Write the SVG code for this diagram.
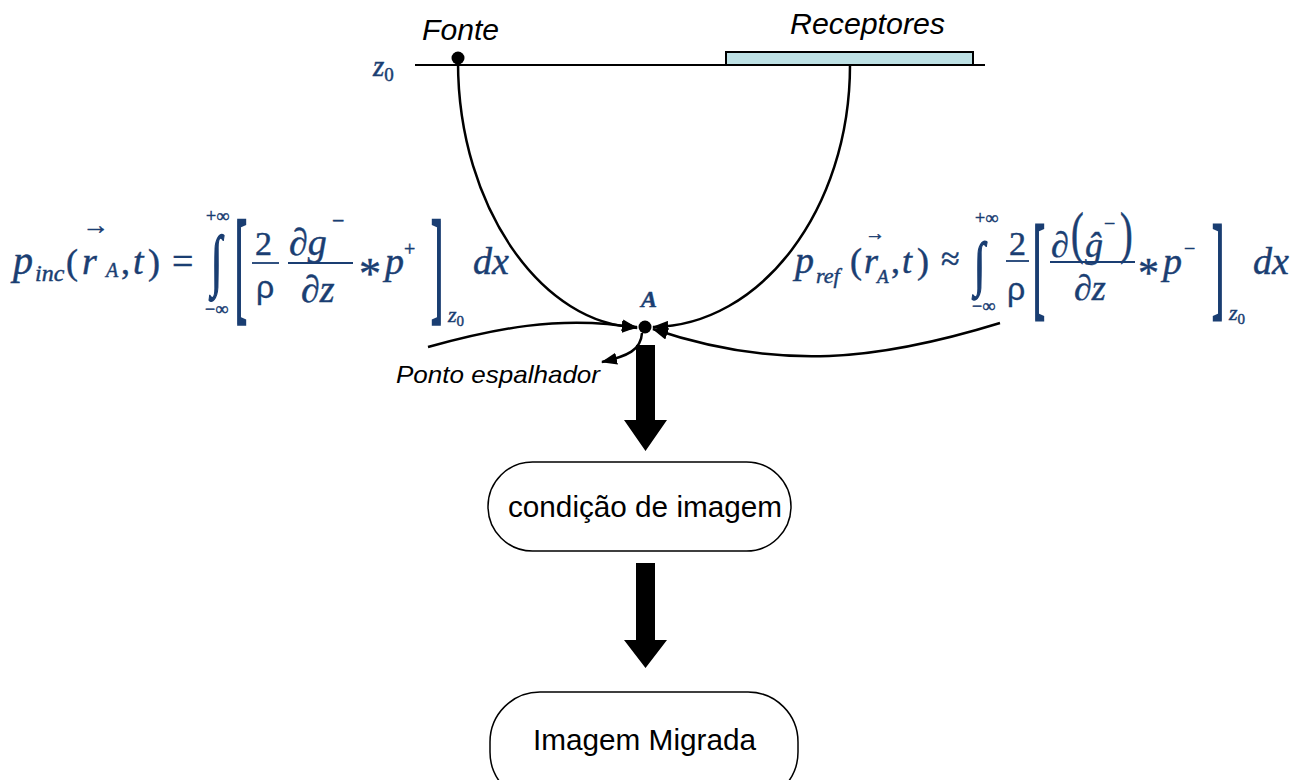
<svg xmlns="http://www.w3.org/2000/svg" width="1310" height="780" viewBox="0 0 1310 780">
<defs>
<style>
.lbl{font-family:"Liberation Sans",Arial,sans-serif;font-style:italic;fill:#000}
.box{fill:#fff;stroke:#000;stroke-width:1.5}
.bt{font-family:"Liberation Sans",Arial,sans-serif;font-size:29.5px;fill:#000;text-anchor:middle}
.m{font-family:"Liberation Serif","Times New Roman",serif;font-style:italic;fill:#1a3e72;stroke:#1a3e72;stroke-width:0.45}
.u{font-family:"Liberation Serif","Times New Roman",serif;fill:#1a3e72;stroke:#1a3e72;stroke-width:0.45}
.br{font-family:"Liberation Serif","Times New Roman",serif;fill:#1a3e72;stroke:#1a3e72;stroke-width:1}
.g{font-family:"Liberation Sans",Arial,sans-serif;fill:#1a3e72;stroke:#1a3e72;stroke-width:0.3}
.cv{fill:none;stroke:#000;stroke-width:2.5}
.fl{stroke:#1a3e72;stroke-width:1.8}
</style>
<marker id="ah" viewBox="0 0 16 12" refX="15" refY="6" markerWidth="16" markerHeight="12" orient="auto" markerUnits="userSpaceOnUse"><path d="M0,0 L16,6 L0,12 z" fill="#000"/></marker>
</defs>
<rect width="1310" height="780" fill="#fff"/>

<g id="surface">
<line x1="415" y1="65" x2="985" y2="65" stroke="#000" stroke-width="2"/>
<text class="m" x="373" y="76" font-size="29" stroke-width="0">z<tspan font-size="19" font-style="normal" dy="5">0</tspan></text>
</g>
<g id="receptores">
<rect x="726" y="52" width="247" height="13" fill="#bde0e4" stroke="#000" stroke-width="2"/>
<text class="lbl" x="790" y="34" font-size="30" textLength="155" lengthAdjust="spacingAndGlyphs">Receptores</text>
</g>
<g id="fonte">
<circle cx="458" cy="58" r="6.5" fill="#000"/>
<text class="lbl" x="422" y="40" font-size="30" textLength="77" lengthAdjust="spacingAndGlyphs">Fonte</text>
</g>
<g id="pontoA">
<circle cx="645" cy="327" r="6.5" fill="#000"/>
<text class="m" x="641" y="307" font-size="24" font-weight="bold">A</text>
<text class="lbl" x="396" y="383" font-size="24" textLength="204" lengthAdjust="spacingAndGlyphs">Ponto espalhador</text>
</g>

<g id="connectors">
<path class="cv" d="M458,62 C458,210 545,326 637,327" marker-end="url(#ah)"/>
<path class="cv" d="M850,65 C850,210 760,326 653,327" marker-end="url(#ah)"/>
<path class="cv" d="M428,347 C490,330 560,314 637,328" marker-end="url(#ah)" stroke-width="2"/>
<path class="cv" d="M1000,323 C880,360 780,372 653,329" marker-end="url(#ah)" stroke-width="2"/>
<path class="cv" d="M642,333 C641,350 628,356 602,362" marker-end="url(#ah)"/>
<path d="M636,345 H655 V420 H667 L645.5,451 L624,420 H636 Z" fill="#000"/>
<path d="M636,563 H655 V640 H667 L645.5,668 L624,640 H636 Z" fill="#000"/>
</g>

<g id="condicao">
<rect class="box" x="488" y="462" width="303" height="89" rx="44.5"/>
<text class="bt" x="645" y="517" textLength="274" lengthAdjust="spacingAndGlyphs">condição de imagem</text>
</g>
<g id="migrada">
<rect class="box" x="490" y="692" width="308" height="110" rx="50"/>
<text class="bt" x="644.5" y="750" textLength="223" lengthAdjust="spacingAndGlyphs">Imagem Migrada</text>
</g>

<g id="eq-inc">
<text class="m" x="13" y="274" font-size="40">p</text>
<text class="m" x="35" y="281" font-size="24">inc</text>
<text class="u" x="66" y="274" font-size="36">(</text>
<text class="m" x="82" y="274" font-size="38">r</text>
<text class="u" x="82" y="234" font-size="27">→</text>
<text class="m" x="106" y="277" font-size="20">A</text>
<text class="u" x="121" y="274" font-size="36">,</text>
<text class="m" x="133" y="274" font-size="38">t</text>
<text class="u" x="148" y="274" font-size="36">)</text>
<text class="u" x="172" y="274" font-size="38">=</text>
<text class="br" transform="translate(211,283) scale(1,1.7)" font-size="40">∫</text>
<text class="u" x="206" y="222" font-size="18">+∞</text>
<text class="u" x="205" y="315" font-size="18">−∞</text>
<text class="br" transform="translate(235,307) scale(1,3.5)" font-size="36">[</text>
<text class="u" x="255" y="255" font-size="34">2</text>
<line class="fl" x1="252" y1="263" x2="279" y2="263"/>
<text class="g" x="256" y="298" font-size="32">ρ</text>
<text class="m" x="289" y="255" font-size="38">∂g</text>
<text class="u" x="332" y="228" font-size="22">−</text>
<line class="fl" x1="288" y1="263" x2="353" y2="263"/>
<text class="m" x="301" y="302" font-size="38">∂z</text>
<text class="u" x="359" y="288" font-size="44">*</text>
<text class="m" x="385" y="274" font-size="38">p</text>
<text class="u" x="404" y="256" font-size="20">+</text>
<text class="br" transform="translate(431,307) scale(1,3.5)" font-size="36">]</text>
<text class="m" x="448" y="322" font-size="22">z<tspan font-size="15" font-style="normal" dy="4">0</tspan></text>
<text class="m" x="473" y="274" font-size="38">dx</text>
</g>

<g id="eq-ref">
<text class="m" x="795" y="273" font-size="38">p</text>
<text class="m" x="816" y="283" font-size="22">ref</text>
<text class="u" x="850" y="273" font-size="36">(</text>
<text class="m" x="864" y="273" font-size="36">r</text>
<text class="u" x="865" y="240" font-size="20">→</text>
<text class="m" x="877" y="283" font-size="19">A</text>
<text class="u" x="891" y="273" font-size="36">,</text>
<text class="m" x="902" y="273" font-size="36">t</text>
<text class="u" x="917" y="273" font-size="36">)</text>
<text class="u" x="941" y="270" font-size="34">≈</text>
<text class="br" transform="translate(974,284) scale(1,1.5)" font-size="40">∫</text>
<text class="u" x="975" y="224" font-size="18">+∞</text>
<text class="u" x="972" y="312" font-size="18">−∞</text>
<text class="u" x="1009" y="255" font-size="34">2</text>
<line class="fl" x1="1006" y1="261" x2="1029" y2="261"/>
<text class="g" x="1007" y="300" font-size="32">ρ</text>
<text class="br" transform="translate(1033,305) scale(1,3.2)" font-size="36">[</text>
<text class="m" x="1051" y="257" font-size="36">∂</text>
<text class="u" transform="translate(1071,252) scale(1,1.5)" font-size="38">(</text>
<text class="m" x="1085" y="257" font-size="36">ĝ</text>
<text class="u" x="1104" y="230" font-size="20">−</text>
<text class="u" transform="translate(1120,252) scale(1,1.5)" font-size="38">)</text>
<line class="fl" x1="1050" y1="262" x2="1135" y2="262"/>
<text class="m" x="1074" y="300" font-size="36">∂z</text>
<text class="u" x="1138" y="287" font-size="42">*</text>
<text class="m" x="1163" y="274" font-size="38">p</text>
<text class="u" x="1184" y="255" font-size="20">−</text>
<text class="br" transform="translate(1212,305) scale(1,3.2)" font-size="36">]</text>
<text class="m" x="1229" y="320" font-size="22">z<tspan font-size="15" font-style="normal" dy="4">0</tspan></text>
<text class="m" x="1253" y="274" font-size="38">dx</text>
</g>
</svg>
